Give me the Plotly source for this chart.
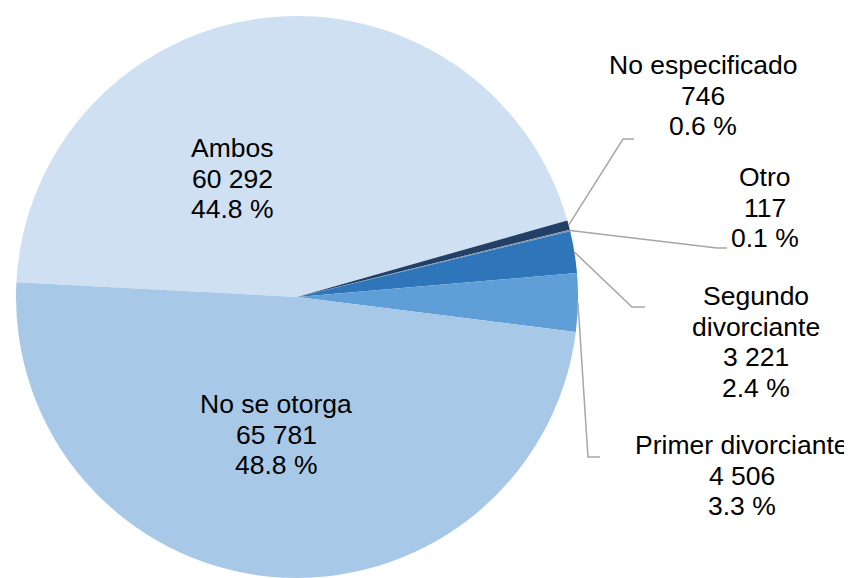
import math
import plotly.graph_objects as go

# datos
categorias = ["Ambos", "No especificado", "Otro", "Segundo divorciante", "Primer divorciante", "No se otorga"]
etiquetas = ["Ambos", "No especificado", "Otro", "Segundo<br>divorciante", "Primer divorciante", "No se otorga"]
valores = [60292, 746, 117, 3221, 4506, 65781]
colores = ["#CEE0F1", "#223F66", "#8193AB", "#2E75B9", "#5F9ED6", "#A7C9E7"]

OFF = 8  # margen del body de la pagina
W, H = 852 - OFF, 578 - OFF
TOP = 8
ROT = 273  # grados, sentido horario desde las 12

# posicion de los textos (px de la ventana): centro x, linea base de la primera linea
pos_texto = {
    "Ambos": (232, 157),
    "No especificado": (703, 74),
    "Otro": (765, 186),
    "Segundo divorciante": (756, 305),
    "Primer divorciante": (742, 454),
    "No se otorga": (276, 413),
}
# lineas guia: codo y final (px de la ventana)
guias = {
    "No especificado": [(623, 139), (634, 139)],
    "Otro": [(717, 248), (727, 248)],
    "Segundo divorciante": [(632, 307), (645, 307)],
    "Primer divorciante": [(588, 457), (600, 457)],
}

total = sum(valores)
alto = H - TOP
radio = alto / 2
cx, cy = 297 - OFF, TOP + radio  # en px de la figura


def px2paper(x, y):
    # px de la ventana -> coordenadas paper
    return (x - OFF) / W, (H - (y - OFF)) / alto


fig = go.Figure(go.Pie(
    labels=categorias, values=valores, sort=False, direction="clockwise", rotation=ROT,
    marker=dict(colors=colores, line=dict(width=0)), textinfo="none",
    domain=dict(x=[0, 2 * cx / W], y=[0, 1]), showlegend=False,
))

anots = []
shapes = []
ang = ROT
for cat, et, v in zip(categorias, etiquetas, valores):
    pct = 100 * v / total
    medio = math.radians(ang + 360 * v / total / 2)
    ang += 360 * v / total
    lineas = et.split("<br>") + [f"{v:,}".replace(",", " "), f"{pct:.1f} %"]
    x0, y0 = pos_texto[cat]
    for i, t in enumerate(lineas):
        xp, yp = px2paper(x0, y0 + i * 30.7 - 9)
        anots.append(dict(x=xp, y=yp, xref="paper", yref="paper", text=t, showarrow=False,
                          xanchor="center", yanchor="middle",
                          font=dict(family="Liberation Sans, Arial", size=26.5, color="black")))
    if cat in guias:
        inicio = (cx + OFF + radio * math.sin(medio), cy + OFF - radio * math.cos(medio))
        pp = [px2paper(*p) for p in [inicio] + guias[cat]]
        path = "M " + " L ".join(f"{a},{b}" for a, b in pp)
        shapes.append(dict(type="path", path=path, xref="paper", yref="paper",
                           line=dict(color="#A6A6A6", width=1.5)))

fig.update_layout(width=W, height=H, margin=dict(l=0, r=0, t=TOP, b=0),
                  paper_bgcolor="white", plot_bgcolor="white",
                  annotations=anots, shapes=shapes)
fig.write_html("out.html")
